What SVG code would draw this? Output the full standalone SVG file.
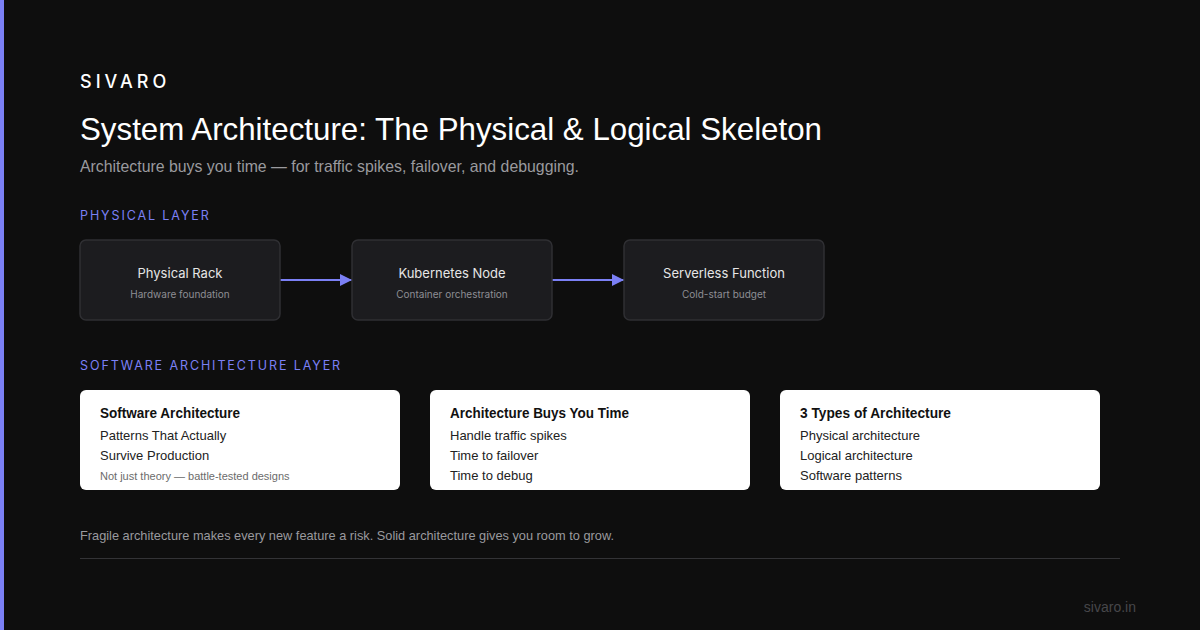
<svg xmlns="http://www.w3.org/2000/svg" width="1200" height="630" viewBox="0 0 1200 630">
<defs>
<marker id="arr" markerWidth="12" markerHeight="12" refX="12" refY="6" orient="auto" markerUnits="userSpaceOnUse"><path d="M0,0 L12,6 L0,12 Z" fill="#7b80f5"/></marker>
<style>
.narrow{font-family:"Liberation Sans Narrow","Liberation Sans",Arial,sans-serif}
.inter{font-family:Inter,"Noto Sans",sans-serif}
.lbl{font-family:Inter,"Noto Sans",sans-serif;font-size:12.5px;letter-spacing:1.9px;fill:#7b80f5}
.box{fill:#1c1c1f;stroke:#2f2f33;stroke-width:1.5}
.bt{font-family:Inter,"Noto Sans",sans-serif;font-size:13px;fill:#e6e6e6;text-anchor:middle}
.bs{font-family:Inter,"Noto Sans",sans-serif;font-size:10px;fill:#8e8e94;text-anchor:middle}
.card{fill:#ffffff}
.ct{font-family:"Liberation Sans Narrow","Liberation Sans",sans-serif;font-size:15px;font-weight:bold;fill:#111}
.cl{font-family:"Liberation Sans Narrow","Liberation Sans",sans-serif;font-size:13px;fill:#222}
.cs{font-family:"Liberation Sans Narrow","Liberation Sans",sans-serif;font-size:11px;fill:#6b6b6b}
.conn{stroke:#7b80f5;stroke-width:2;fill:none}
</style>
</defs>
<rect width="1200" height="630" fill="#0e0e0e"/>
<rect x="0" y="0" width="4" height="630" fill="#7b80f5"/>
<text x="80" y="88" class="inter" font-size="18" font-weight="500" letter-spacing="4" fill="#ffffff">SIVARO</text>
<text x="80" y="140" class="narrow" font-size="32" fill="#ffffff" textLength="742" lengthAdjust="spacingAndGlyphs">System Architecture: The Physical &amp; Logical Skeleton</text>
<text x="80" y="172" class="narrow" font-size="16.5" fill="#9a9a9e" textLength="499" lengthAdjust="spacingAndGlyphs">Architecture buys you time — for traffic spikes, failover, and debugging.</text>
<text x="80" y="220" class="lbl">PHYSICAL LAYER</text>
<g id="connectors">
<line x1="280" y1="280" x2="352" y2="280" class="conn" marker-end="url(#arr)"/>
<line x1="552" y1="280" x2="624" y2="280" class="conn" marker-end="url(#arr)"/>
</g>
<g id="rack"><rect x="80" y="240" width="200" height="80" rx="6" class="box"/><text x="180" y="278" class="bt">Physical Rack</text><text x="180" y="298" class="bs">Hardware foundation</text></g>
<g id="k8s"><rect x="352" y="240" width="200" height="80" rx="6" class="box"/><text x="452" y="278" class="bt">Kubernetes Node</text><text x="452" y="298" class="bs">Container orchestration</text></g>
<g id="serverless"><rect x="624" y="240" width="200" height="80" rx="6" class="box"/><text x="724" y="278" class="bt">Serverless Function</text><text x="724" y="298" class="bs">Cold-start budget</text></g>
<text x="80" y="370" class="lbl">SOFTWARE ARCHITECTURE LAYER</text>
<g id="card1"><rect x="80" y="390" width="320" height="100" rx="6" class="card"/><text x="100" y="418" class="ct" textLength="140" lengthAdjust="spacingAndGlyphs">Software Architecture</text><text x="100" y="440" class="cl">Patterns That Actually</text><text x="100" y="460" class="cl">Survive Production</text><text x="100" y="480" class="cs">Not just theory — battle-tested designs</text></g>
<g id="card2"><rect x="430" y="390" width="320" height="100" rx="6" class="card"/><text x="450" y="418" class="ct" textLength="179" lengthAdjust="spacingAndGlyphs">Architecture Buys You Time</text><text x="450" y="440" class="cl">Handle traffic spikes</text><text x="450" y="460" class="cl">Time to failover</text><text x="450" y="480" class="cl">Time to debug</text></g>
<g id="card3"><rect x="780" y="390" width="320" height="100" rx="6" class="card"/><text x="800" y="418" class="ct" textLength="151" lengthAdjust="spacingAndGlyphs">3 Types of Architecture</text><text x="800" y="440" class="cl">Physical architecture</text><text x="800" y="460" class="cl">Logical architecture</text><text x="800" y="480" class="cl">Software patterns</text></g>
<text x="80" y="540" class="narrow" font-size="13" fill="#9a9a9e" textLength="534" lengthAdjust="spacingAndGlyphs">Fragile architecture makes every new feature a risk. Solid architecture gives you room to grow.</text>
<line x1="80" y1="558.5" x2="1120" y2="558.5" stroke="#333336" stroke-width="1"/>
<text x="1136" y="612" class="narrow" font-size="14" fill="#47474a" text-anchor="end">sivaro.in</text>
</svg>
